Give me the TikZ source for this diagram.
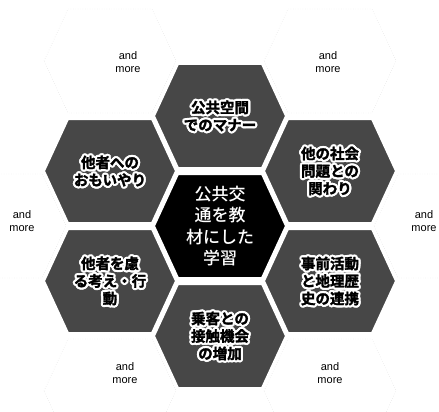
\documentclass[tikz,border=0pt]{standalone}
\usepackage{fontspec}
\setmainfont{Liberation Sans}
\newfontfamily\jpbold[FakeBold=2]{Noto Sans CJK JP Bold}
\newfontfamily\jpmed{Noto Sans CJK JP Medium}
\usetikzlibrary{positioning}

\begin{document}
\begin{tikzpicture}[x=1pt, y=-1pt,
    cell/.style={fill=black!72, draw=white, line width=2pt},
    corecell/.style={fill=black, draw=white, line width=2pt},
    spare/.style={draw=black!18, dotted, line width=0.4pt},
    hexlabel/.style={align=center, inner sep=0pt, text=black,
      font=\jpbold\fontsize{14.5}{17.5}\selectfont},
    halolabel/.style={hexlabel, text=white},
    corelabel/.style={align=center, inner sep=0pt, text=white,
      font=\jpmed\fontsize{17}{21.5}\selectfont},
    morelabel/.style={align=center, inner sep=0pt,
      font=\fontsize{11}{12.5}\selectfont}]
    \useasboundingbox (0,0) rectangle (439,412);

    % 空きセル (点線)
    \foreach \x/\y in {110/61, 330/61, 0/226, 440/226, 110/391, 330/391}
        \draw[spare, shift={(\x,\y)}] (-66,0) -- (-42,-52) -- (42,-52) -- (66,0) -- (42,52) -- (-42,52) -- cycle;

    % 周りのセル
    \foreach \name/\x/\y/\txt in {
        manner/220/116/{公共空間\\でのマナー},
        omoiyari/110/171/{他者への\\おもいやり},
        shakai/330/171/{他の社会\\問題との\\関わり},
        koudou/110/281/{他者を慮\\る考え・行\\動},
        renkei/330/281/{事前活動\\と地理歴\\史の連携},
        sesshoku/220/336/{乗客との\\接触機会\\の増加}} {
        \draw[cell, shift={(\x,\y)}] (-66,0) -- (-42,-52) -- (42,-52) -- (66,0) -- (42,52) -- (-42,52) -- cycle;
        % 白い縁取り
        \foreach \a in {0,30,...,330}
            \node[halolabel] (\name-h\a) at ([shift={(\a:2.2)}] \x,\y) {\txt};
        \node[hexlabel] (\name) at (\x,\y) {\txt};
    }

    % 中心のセル
    \draw[corecell, shift={(220,226)}] (-66,0) -- (-42,-52) -- (42,-52) -- (66,0) -- (42,52) -- (-42,52) -- cycle;
    \node[corelabel] (core) at (220,226) {公共交\\通を教\\材にした\\学習};

    % and more
    \foreach \name/\x/\y in {moreTL/128/62, moreTR/328/62, moreL/22/221,
                             moreR/424/221, moreBL/125/373, moreBR/330/373}
        \node[morelabel] (\name) at (\x,\y) {and\\more};
\end{tikzpicture}
\end{document}
